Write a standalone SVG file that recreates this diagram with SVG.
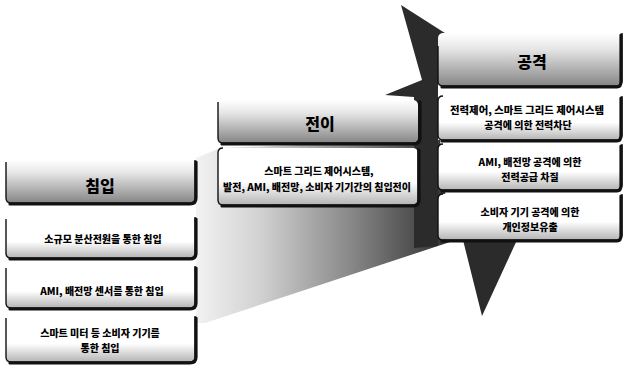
<svg xmlns="http://www.w3.org/2000/svg" width="623" height="365" viewBox="0 0 623 365">
<defs>
  <linearGradient id="hdr" x1="0" y1="0" x2="0" y2="1">
    <stop offset="0" stop-color="#ffffff"/>
    <stop offset="0.3" stop-color="#e6e6e6"/>
    <stop offset="1" stop-color="#858585"/>
  </linearGradient>
  <linearGradient id="box" x1="0" y1="0" x2="0" y2="1">
    <stop offset="0" stop-color="#ffffff"/>
    <stop offset="0.6" stop-color="#ffffff"/>
    <stop offset="1" stop-color="#b4b4b4"/>
  </linearGradient>
  <linearGradient id="ribbon" x1="196" y1="0" x2="450" y2="0" gradientUnits="userSpaceOnUse">
    <stop offset="0" stop-color="#f2f2f2"/>
    <stop offset="0.25" stop-color="#d2d2d2"/>
    <stop offset="0.6" stop-color="#8a8a8a"/>
    <stop offset="1" stop-color="#2e2e2e"/>
  </linearGradient>
  <style>
    .fill-h { fill: url(#hdr); }
    .fill-b { fill: url(#box); }
    .edge { fill: none; stroke: #111; stroke-width: 1.4; }
    .shadow { fill: none; stroke: #111; stroke-width: 3.2; stroke-linecap: round; }
    .ht { font-family: "Noto Sans CJK KR", "Noto Sans", sans-serif; font-weight: 900; font-size: 16px; fill: #000; text-anchor: middle; }
    .bt { font-family: "Noto Sans CJK KR", "Noto Sans", sans-serif; font-weight: 900; font-size: 10px; fill: #000; text-anchor: middle; }
    .dark { fill: #2b2b2b; }
  </style>
</defs>
<rect width="623" height="365" fill="#ffffff"/>

<g id="connectors">
  <polygon id="ribbon-plane" points="196,158 220,148 420,140 440,140 450,242 205,323 196,323" fill="url(#ribbon)"/>
  <polygon id="arrow-up" class="dark" points="401,5 448,35 438,38 438,246 414,248 414,97 385,95 422,80"/>
  <polygon id="arrow-down" class="dark" points="463,240 517,240 482,316"/>
</g>

<g id="stage-intrusion">
  <g id="hdr-intrusion">
    <rect x="6" y="160" width="189" height="43" rx="5" class="fill-h"/>
    <path class="edge" d="M6,162 V198 Q6,203 11,203 H190 Q195,203 195,198 V160"/>
    <path class="shadow" d="M10,204 H190 Q196,204 196,198 V162"/>
    <text class="ht" x="100" y="192">침입</text>
  </g>
  <g id="intr-1">
    <rect x="6" y="217" width="189" height="41" rx="5" class="fill-b"/>
    <path class="edge" d="M6,219 V253 Q6,258 11,258 H190 Q195,258 195,253 V217"/>
    <path class="shadow" d="M10,259 H190 Q196,259 196,253 V219"/>
    <text class="bt" x="103" y="243">소규모 분산전원을 통한 침입</text>
  </g>
  <g id="intr-2">
    <rect x="6" y="266" width="189" height="42" rx="5" class="fill-b"/>
    <path class="edge" d="M6,268 V303 Q6,308 11,308 H190 Q195,308 195,303 V266"/>
    <path class="shadow" d="M10,309 H190 Q196,309 196,303 V268"/>
    <text class="bt" x="102" y="295">AMI, 배전망 센서를 통한 침입</text>
  </g>
  <g id="intr-3">
    <rect x="6" y="316" width="189" height="46" rx="5" class="fill-b"/>
    <path class="edge" d="M6,318 V357 Q6,362 11,362 H190 Q195,362 195,357 V316"/>
    <path class="shadow" d="M10,363 H190 Q196,363 196,357 V318"/>
    <text class="bt" x="100" y="337">스마트 미터 등 소비자 기기를</text>
    <text class="bt" x="100" y="352">통한 침입</text>
  </g>
</g>

<g id="stage-transition">
  <g id="hdr-transition">
    <rect x="218" y="100" width="200" height="43" rx="5" class="fill-h"/>
    <path class="edge" d="M218,102 V138 Q218,143 223,143 H414 Q419,143 419,138 V100"/>
    <path class="shadow" d="M222,144 H414 Q420,144 420,138 V102"/>
    <text class="ht" x="320" y="130">전이</text>
  </g>
  <g id="trans-1">
    <rect x="218" y="148" width="200" height="57" rx="5" class="fill-b"/>
    <path class="edge" d="M223,148 Q218,148 218,153 V200 Q218,205 223,205 H413 Q418,205 418,200 V148"/>
    <path class="shadow" d="M222,206 H413 Q419,206 419,200 V150"/>
    <text class="bt" x="319" y="175">스마트 그리드 제어시스템,</text>
    <text class="bt" x="317" y="191" textLength="188" lengthAdjust="spacingAndGlyphs">발전, AMI, 배전망, 소비자 기기간의 침입전이</text>
  </g>
</g>

<g id="stage-attack">
  <g id="hdr-attack">
    <rect x="438" y="33" width="184" height="53" rx="5" class="fill-h"/>
    <path class="edge" d="M438,46 V81 Q438,86 443,86 H617 Q622,86 622,81 V33"/>
    <path class="shadow" d="M442,87 H617 Q621,87 621,81 V35"/>
    <text class="ht" x="532" y="68">공격</text>
  </g>
  <g id="atk-1">
    <rect x="438" y="96" width="184" height="44" rx="5" class="fill-b"/>
    <path class="edge" d="M443,96 Q438,96 438,101 V135 Q438,140 443,140 H617 Q622,140 622,135 V96"/>
    <path class="shadow" d="M442,141 H617 Q621,141 621,135 V98"/>
    <text class="bt" x="527" y="114" textLength="154" lengthAdjust="spacingAndGlyphs">전력제어, 스마트 그리드 제어시스템</text>
    <text class="bt" x="528" y="129">공격에 의한 전력차단</text>
  </g>
  <g id="atk-2">
    <rect x="438" y="144" width="184" height="46" rx="5" class="fill-b"/>
    <path class="edge" d="M443,144 Q438,144 438,149 V185 Q438,190 443,190 H617 Q622,190 622,185 V144"/>
    <path class="shadow" d="M442,191 H617 Q621,191 621,185 V146"/>
    <text class="bt" x="530" y="166">AMI, 배전망 공격에 의한</text>
    <text class="bt" x="530" y="181">전력공급 차질</text>
  </g>
  <g id="atk-3">
    <rect x="438" y="194" width="184" height="46" rx="5" class="fill-b"/>
    <path class="edge" d="M443,194 Q438,194 438,199 V235 Q438,240 443,240 H617 Q622,240 622,235 V194"/>
    <path class="shadow" d="M442,241 H617 Q621,241 621,235 V196"/>
    <text class="bt" x="530" y="216">소비자 기기 공격에 의한</text>
    <text class="bt" x="530" y="231">개인정보유출</text>
  </g>
</g>
</svg>
